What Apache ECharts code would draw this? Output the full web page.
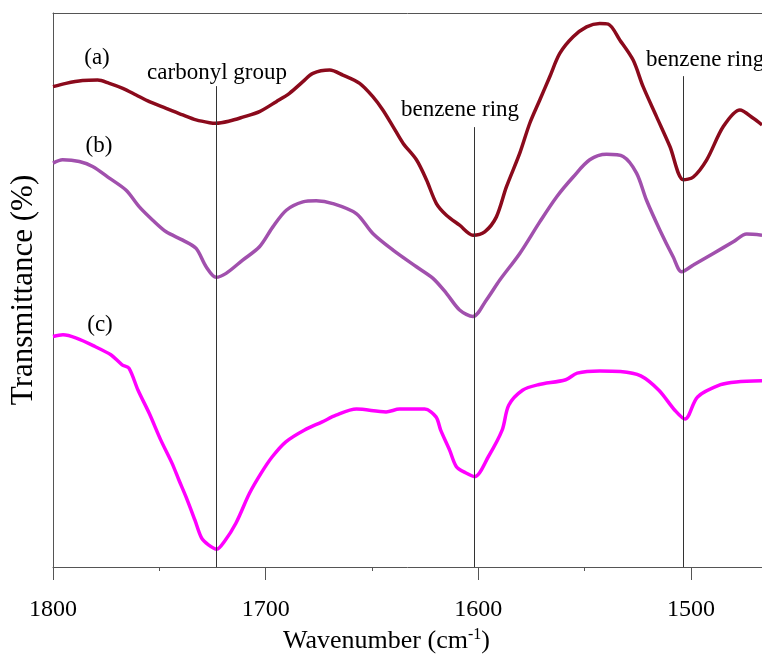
<!DOCTYPE html>
<html>
<head>
<meta charset="utf-8">
<script src="https://cdn.jsdelivr.net/npm/echarts@6/dist/echarts.min.js"></script>
<style>
html, body { margin: 0; padding: 0; background: #fff; }
#chart { width: 762px; height: 654px; }
</style>
</head>
<body>
<div id="chart"></div>
<script>
// FTIR spectra, wavenumber (cm-1) vs relative transmittance
const wnA = [1800,1793.9,1786.1,1779.0,1773.5,1767.2,1760.9,1754.7,1746.8,1739.0,1732.7,1726.4,1723.3,1717.0,1710.8,1702.9,1695.0,1688.8,1682.5,1677.8,1669.9,1663.7,1655.8,1649.6,1644.9,1640.1,1635.4,1629.1,1624.4,1619.7,1615.0,1608.8,1602.5,1597.0,1591.5,1586.8,1580.5,1575.8,1571.1,1566.4,1561.7,1555.4,1549.1,1542.9,1538.9,1533.4,1527.2,1522.5,1516.2,1509.9,1503.6,1498.9,1492.6,1484.8,1477.0,1470.7,1466.6];
const tA = [86.7,87.3,87.8,87.9,87.3,86.4,85.2,84.0,82.8,81.6,80.7,80.2,80.1,80.5,81.2,82.2,84.0,85.5,87.6,89.1,89.7,88.8,87.3,84.9,82.5,79.5,76.5,73.5,69.9,65.6,63.5,61.7,59.9,60.5,63.2,68.6,74.7,80.1,84.3,88.5,92.7,95.7,97.5,98.1,98.0,95.1,91.5,86.7,81.3,75.9,69.9,70.4,73.5,79.5,82.5,81.0,79.8];

const wnB = [1800,1795.5,1787.6,1781.4,1773.5,1765.6,1759.4,1753.1,1746.8,1739.0,1732.7,1728.0,1723.3,1718.6,1710.8,1702.9,1696.6,1690.3,1682.5,1676.2,1668.4,1657.4,1649.6,1640.1,1629.1,1621.3,1615.0,1608.8,1602.5,1596.2,1589.9,1580.5,1571.1,1563.2,1555.4,1547.6,1539.7,1531.9,1525.6,1520.9,1514.6,1508.4,1504.4,1498.9,1489.5,1480.1,1473.8,1466.6];
const tB = [72.9,73.5,73.2,72.3,70.2,68.0,65.0,62.6,60.5,59.0,57.5,54.2,52.3,53.0,55.4,57.8,61.4,64.4,65.9,66.1,65.6,63.8,60.2,57.2,54.2,52.1,49.4,46.4,45.2,48.2,51.8,56.6,62.3,66.8,70.4,73.5,74.5,74.1,71.1,66.2,60.8,56.0,53.3,54.5,56.6,58.7,60.1,59.9];

const wnC = [1800,1795.3,1789.0,1780.3,1772.8,1767.5,1764.3,1760.0,1754.7,1749.3,1744.0,1740.8,1737.5,1733.3,1730.1,1726.9,1723.0,1719.4,1714.0,1707.6,1702.2,1696.9,1690.5,1681.9,1673.4,1666.9,1657.3,1643.4,1637.0,1625.2,1619.9,1617.7,1613.5,1610.3,1606.0,1601.7,1595.3,1588.8,1585.7,1579.2,1571.8,1558.9,1553.5,1542.9,1533.2,1523.6,1515.1,1507.6,1502.8,1496.9,1486.1,1478.7,1466.6];
const tC = [41.6,41.9,41.3,39.8,38.3,36.5,35.9,31.9,27.7,22.9,18.7,15.7,12.7,8.5,5.2,4.0,3.2,4.6,7.9,13.3,16.9,19.9,22.6,24.7,26.2,27.4,28.5,28.0,28.5,28.5,27.1,24.7,21.1,18.1,17.0,16.3,19.9,24.7,29.2,31.9,32.9,33.8,35.0,35.4,35.3,34.5,31.9,28.3,26.7,30.7,32.9,33.4,33.6];

// peak marker lines: position and where the line stops at the top
const peakWn = [1723.3, 1602.0, 1503.7];
const peakTop = [86.8, 79.4, 88.6];

const majorTicks = [1800, 1700, 1600, 1500];
const minorTicks = [1750, 1650, 1550];

const FONT = '"Liberation Serif", "Times New Roman", serif';
const xMin = 1466.6, xMax = 1800;

function pairs(xs, ys) {
  return xs.map((x, i) => [x, ys[i]]);
}

const chart = echarts.init(document.getElementById('chart'));

const baseX = {
  type: 'value', min: xMin, max: xMax, inverse: true,
  splitLine: { show: false }
};

chart.setOption({
  animation: false,
  backgroundColor: '#fff',
  grid: { left: 53, right: 0, top: 13, bottom: 87, outerBoundsMode: 'none' },
  xAxis: [
    Object.assign({}, baseX, {
      position: 'bottom',
      name: '{a|Wavenumber (cm}{s|-1}{a|)}',
      nameLocation: 'middle',
      nameGap: 58,
      nameTextStyle: {
        padding: [0, 42, 0, 0],
        rich: {
          a: { fontFamily: FONT, fontSize: 26, color: '#000' },
          s: { fontFamily: FONT, fontSize: 16, color: '#000', padding: [0, 0, 12, 0] }
        }
      },
      axisLine: { show: true, lineStyle: { color: '#555', width: 1 } },
      axisTick: { show: true, length: 13, customValues: majorTicks, lineStyle: { color: '#555' } },
      axisLabel: {
        customValues: majorTicks, margin: 31,
        fontFamily: FONT, fontSize: 24, color: '#000',
        formatter: v => String(v)
      }
    }),
    Object.assign({}, baseX, {
      position: 'bottom',
      axisLine: { show: false },
      axisTick: { show: true, length: 4, customValues: minorTicks, lineStyle: { color: '#555' } },
      axisLabel: { show: false }
    }),
    Object.assign({}, baseX, {
      position: 'top',
      axisLine: { show: true, lineStyle: { color: '#555', width: 1 } },
      axisTick: { show: false },
      axisLabel: { show: false }
    })
  ],
  yAxis: {
    type: 'value', min: 0, max: 100,
    name: 'Transmittance (%)',
    nameLocation: 'middle',
    nameGap: 14,
    nameTextStyle: { fontFamily: FONT, fontSize: 31, color: '#000' },
    axisLine: { show: true, lineStyle: { color: '#555', width: 1 } },
    axisTick: { show: false },
    axisLabel: { show: false },
    splitLine: { show: false }
  },
  series: [
    {
      name: '(a)', type: 'line', data: pairs(wnA, tA),
      showSymbol: false, smooth: 0.3, lineStyle: { color: '#8b0a1c', width: 3.5 },
      markLine: {
        silent: true, symbol: 'none', label: { show: false },
        lineStyle: { color: '#333', width: 1, type: 'solid' },
        data: peakWn.map((w, i) => [{ coord: [w, peakTop[i]] }, { coord: [w, 0] }])
      }
    },
    {
      name: '(b)', type: 'line', data: pairs(wnB, tB),
      showSymbol: false, smooth: 0.3, lineStyle: { color: '#a150ad', width: 3.5 }
    },
    {
      name: '(c)', type: 'line', data: pairs(wnC, tC),
      showSymbol: false, smooth: 0.3, lineStyle: { color: '#ff00ff', width: 3.5 }
    }
  ],
  graphic: [
    { type: 'text', style: { x: 97, y: 58, text: '(a)', textAlign: 'center', textVerticalAlign: 'middle', font: '23px ' + FONT, fill: '#000' } },
    { type: 'text', style: { x: 99, y: 146, text: '(b)', textAlign: 'center', textVerticalAlign: 'middle', font: '23px ' + FONT, fill: '#000' } },
    { type: 'text', style: { x: 100, y: 325, text: '(c)', textAlign: 'center', textVerticalAlign: 'middle', font: '23px ' + FONT, fill: '#000' } },
    { type: 'text', style: { x: 217, y: 73, text: 'carbonyl group', textAlign: 'center', textVerticalAlign: 'middle', font: '23px ' + FONT, fill: '#000' } },
    { type: 'text', style: { x: 460, y: 110, text: 'benzene ring', textAlign: 'center', textVerticalAlign: 'middle', font: '23px ' + FONT, fill: '#000' } },
    { type: 'text', style: { x: 646, y: 60, text: 'benzene ring', textAlign: 'left', textVerticalAlign: 'middle', font: '23px ' + FONT, fill: '#000' } }
  ]
});
</script>
</body>
</html>
